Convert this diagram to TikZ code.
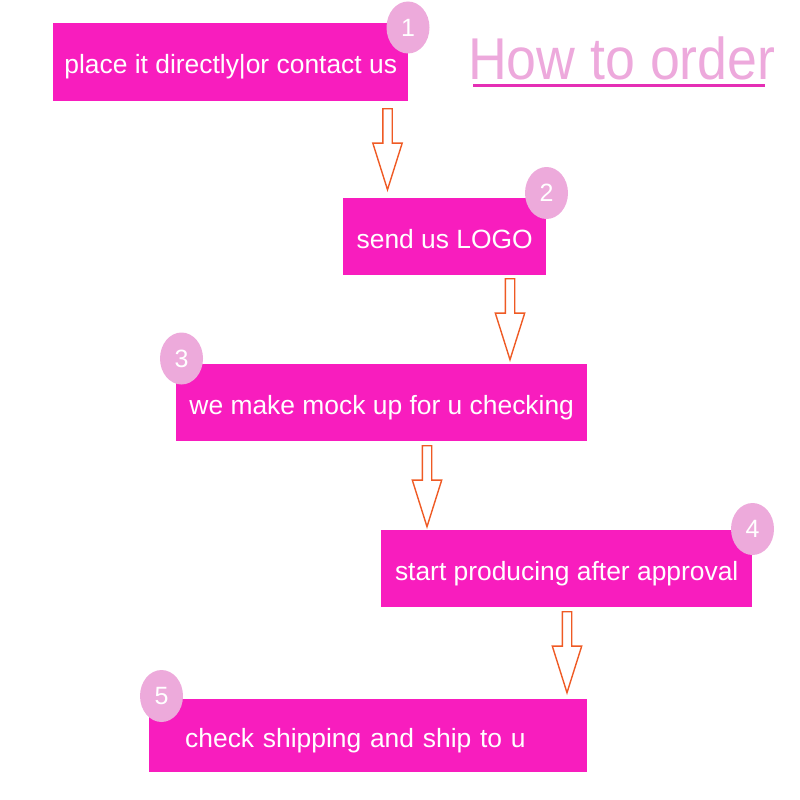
\documentclass[tikz,border=0pt]{standalone}
\usepackage{fontspec}
\setmainfont{Liberation Sans}
\usetikzlibrary{shapes.geometric,shapes.arrows}
\definecolor{box-pink}{HTML}{F81DBE}
\definecolor{badge-pink}{HTML}{EDAADB}
\definecolor{arrow-orange}{HTML}{EF5A24}
\definecolor{title-pink}{HTML}{EDA9DC}
\definecolor{line-pink}{HTML}{E52FB5}

\begin{document}
\begin{tikzpicture}[
  x=1pt, y=-1pt,
  stepbox/.style={rectangle, fill=box-pink, anchor=west, minimum height=77pt,
    inner xsep=0pt, text=white, text height=27pt, text depth=4pt,
    font=\fontsize{26.4}{30}\selectfont},
  badge/.style={ellipse, fill=badge-pink, minimum width=43pt, minimum height=52pt,
    inner sep=0pt, text=white, font=\fontsize{25}{28}\selectfont},
  downarrow/.style={single arrow, draw=arrow-orange, fill=white, line width=1.4pt,
    rotate=-90, anchor=tail, minimum height=81pt, minimum width=29pt, inner sep=4pt,
    single arrow head extend=10pt, single arrow tip angle=35},
  titletext/.style={anchor=base west, inner sep=0pt, text=title-pink, xscale=0.91,
    font=\fontsize{59}{60}\selectfont},
]
  \useasboundingbox (0,0) rectangle (800,800);

  % steps
  \node[stepbox, minimum width=355pt] (b1) at (53,62) {place it directly|or contact us};
  \node[stepbox, minimum width=203pt] (b2) at (343,236.5) {send us LOGO};
  \node[stepbox, minimum width=411pt] (b3) at (176,402.5) {we make mock up for u checking};
  \node[stepbox, minimum width=371pt] (b4) at (381,568.5) {start producing after approval};
  \node[stepbox, minimum height=73pt, inner xsep=36pt, text width=366pt, align=left]
    (b5) at (149,735.5) {check shipping and ship to u};

  % numbers
  \node[badge] (n1) at (408,27.5) {1};
  \node[badge] (n2) at (546.5,193) {2};
  \node[badge] (n3) at (181.5,358.5) {3};
  \node[badge] (n4) at (752.5,529) {4};
  \node[badge] (n5) at (161.5,696) {5};

  % arrows
  \node[downarrow] (a1) at (387.5,108) {};
  \node[downarrow] (a2) at (510,278) {};
  \node[downarrow] (a3) at (427,445) {};
  \node[downarrow] (a4) at (567,611) {};

  % title
  \node[titletext] (title) at (468,80) {How to order};
  \draw[line-pink, line width=3pt] ([xshift=5pt,yshift=-5pt]title.base west)
    -- ([xshift=297pt,yshift=-5pt]title.base west);
\end{tikzpicture}
\end{document}
